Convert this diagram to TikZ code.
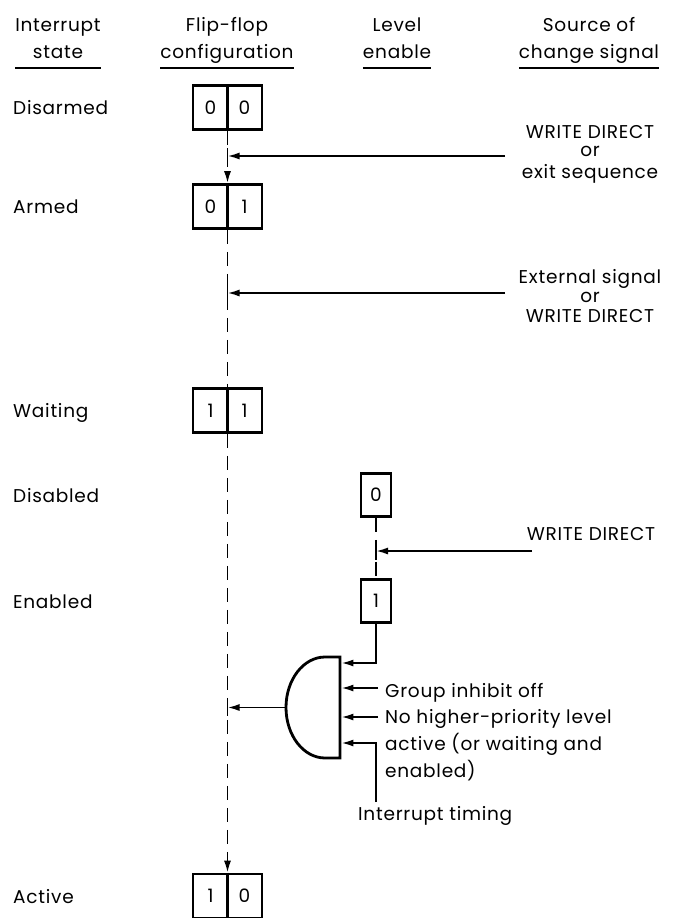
\documentclass[tikz,border=0pt]{standalone}
\usepackage{fontspec}
\setmainfont{Poppins}[LetterSpace=4]
\usetikzlibrary{arrows.meta}
\begin{document}
\begin{tikzpicture}[x=1pt,y=-1pt,
  txt/.style={font=\fontsize{18.5}{22}\selectfont, inner sep=0pt},
  lab/.style={txt, anchor=base west},
  ctr/.style={txt, anchor=base},
  ffbox/.style={draw, line width=2.6pt, minimum width=69pt, minimum height=44pt, inner sep=0pt},
  lebox/.style={draw, line width=2.6pt, minimum width=30pt, minimum height=43pt, inner sep=0pt, font=\fontsize{18.5}{22}\selectfont},
  conn/.style={line width=1.8pt},
  dsh/.style={conn, dash pattern=on 14pt off 8pt},
  tip/.style={-{Latex[length=12pt,width=7pt]}},
  arr/.style={conn, tip},
  uline/.style={line width=1.3pt},
]
\useasboundingbox (0,0) rectangle (672,918);

% headers
\node[ctr] (h1a) at (58,31) {Interrupt};
\node[ctr] (h1b) at (58,58) {state};
\node[ctr] (h2a) at (227,31) {Flip-flop};
\node[ctr] (h2b) at (227,58) {configuration};
\node[ctr] (h3a) at (397,31) {Level};
\node[ctr] (h3b) at (397,58) {enable};
\node[ctr] (h4a) at (589,31) {Source of};
\node[ctr] (h4b) at (589,58) {change signal};
\draw[uline] (h1a.west |- 0,68) -- (h1a.east |- 0,68);
\draw[uline] (h2b.west |- 0,68) -- (h2b.east |- 0,68);
\draw[uline] (h3b.west |- 0,68) -- (h3b.east |- 0,68);
\draw[uline] (h4b.west |- 0,68) -- (h4b.east |- 0,68);

% row labels
\node[lab] (rDis) at (13,114) {Disarmed};
\node[lab] (rArm) at (13,213) {Armed};
\node[lab] (rWai) at (13,417) {Waiting};
\node[lab] (rDsb) at (13,502) {Disabled};
\node[lab] (rEna) at (13,608) {Enabled};
\node[lab] (rAct) at (13,903) {Active};

% flip-flop boxes
\node[ffbox] (f0) at (227.5,107.5) {};
\node[ffbox] (f1) at (227.5,206.5) {};
\node[ffbox] (f2) at (227.5,410.5) {};
\node[ffbox] (f3) at (227.5,896) {};
\foreach \b/\l/\r in {f0/0/0, f1/0/1, f2/1/1, f3/1/0} {
  \draw[line width=2.6pt] (\b.north) -- (\b.south);
  \node[txt] (\b l) at ([xshift=-17pt]\b.center) {\l};
  \node[txt] (\b r) at ([xshift=17pt]\b.center) {\r};
}

% flip-flop dashed line
\draw[dsh, tip] (f0.south) -- (f1.north);
\draw[dsh] (f1.south) -- (f2.north);
\draw[dsh, tip] (f2.south) -- (f3.north);

% change signals
\node[ctr] (w1) at (590,138) {WRITE DIRECT};
\node[ctr] (or1) at (590,156) {or};
\node[ctr] (ex1) at (590,178) {exit sequence};
\coordinate (a1s) at (505,156);
\coordinate (a1t) at (227.5,156);
\draw[conn] (227.5,148) -- (227.5,164);
\draw[arr] (a1s) -- (a1t);

\node[ctr] (ext) at (590,283) {External signal};
\node[ctr] (or2) at (590,302) {or};
\node[ctr] (w2) at (590,322) {WRITE DIRECT};
\coordinate (a2s) at (505,293);
\coordinate (a2t) at (227.5,293);
\draw[conn] (227.5,285) -- (227.5,301);
\draw[arr] (a2s) -- (a2t);

% level enable
\node[lebox] (e0) at (376,495) {0};
\node[lebox] (e1) at (376,601) {1};
\draw[dsh] (e0.south) -- (e1.north);
\node[ctr] (w3) at (591,540) {WRITE DIRECT};
\coordinate (a3s) at (532,551);
\coordinate (a3t) at (376,551);
\draw[conn] (376,542) -- (376,560);
\draw[arr] (a3s) -- (a3t);

% gate
\draw[line width=2.8pt] (340,657) -- (325,657)
  .. controls (303.5,657) and (286,679.6) .. (286,707.5)
  .. controls (286,735.4) and (303.5,758) .. (325,758) -- (340,758) -- cycle;
\coordinate (gw) at (286,707.5);
\coordinate (o1) at (227.5,707.5);
\draw[conn] (227.5,699) -- (227.5,716);
\draw[arr] (gw) -- (o1);

\coordinate (gi1) at (341.4,663);
\draw[arr] (e1.south) |- (gi1);
\coordinate (gi2s) at (378,688);
\coordinate (gi2) at (341.4,688);
\draw[arr] (gi2s) -- (gi2);
\coordinate (gi3s) at (378,717);
\coordinate (gi3) at (341.4,717);
\draw[arr] (gi3s) -- (gi3);
\coordinate (its) at (376,802);
\coordinate (gi4) at (341.4,743);
\draw[arr] (its) |- (gi4);

\node[lab] (t1) at (385,697) {Group inhibit off};
\node[lab] (t2) at (385,723) {No higher-priority level};
\node[lab] (t3) at (385,750) {active (or waiting and};
\node[lab] (t4) at (385,777) {enabled)};
\node[lab] (t5) at (358,820) {Interrupt timing};
\end{tikzpicture}
\end{document}
